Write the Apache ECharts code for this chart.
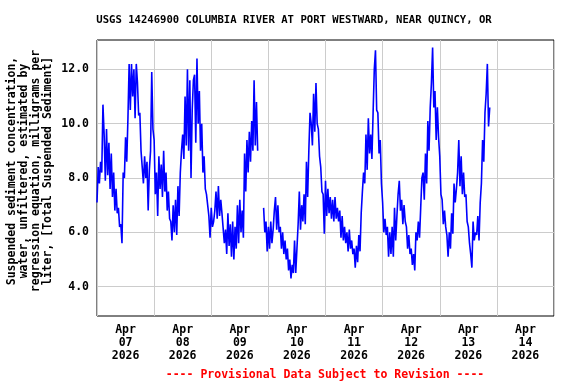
<!DOCTYPE html>
<html>
<head>
<meta charset="utf-8">
<script src="https://cdn.jsdelivr.net/npm/echarts@6/dist/echarts.min.js"></script>
<style>html,body{margin:0;padding:0;background:#fff}#c{width:576px;height:384px}</style>
</head>
<body>
<div id="c"></div>
<script>
// 30-minute values starting 2026-04-07 00:00 (hours from start = index * 0.5)
const ssc = [
  7.1,8.4, 7.8,8.6, 8.2,10.7, 9.6,7.9, 9.8,8.1, 9.3,7.6,
  8.9,7.3, 8.2,6.8, 7.6,6.7, 6.9,6.2, 6.3,5.6, 8.2,8.0,
  9.5,8.6, 10.2,12.2, 10.5,12.2, 11.0,12.0, 10.2,12.2, 11.5,10.3,
  10.4,9.0, 9.0,7.8, 8.8,8.0, 8.6,6.8, 8.3,9.0, 11.9,9.8,
  9.4,7.4, 8.2,6.6, 8.8,7.6, 8.5,7.3, 9.0,7.5, 8.2,6.8,
  7.5,6.5, 6.4,5.7, 7.0,6.0, 7.2,5.9, 7.7,6.6, 8.2,9.0,
  9.6,8.7, 11.0,9.2, 12.0,9.0, 11.6,8.0, 10.5,11.6, 11.8,9.3,
  12.4,10.0, 11.2,9.0, 10.0,8.2, 8.8,7.6, 7.4,7.0, 6.6,5.8,
  6.9,6.2, 6.4,6.8, 7.5,6.5, 7.7,6.6, 7.2,6.7, 6.7,5.6,
  6.1,5.2, 6.7,5.5, 6.3,5.1, 6.4,5.0, 6.2,5.4, 7.0,5.6,
  7.2,6.0, 6.8,5.8, 8.9,7.5, 9.4,8.2, 9.7,8.6, 10.1,9.0,
  11.6,9.2, 10.8,9.0, null,null, null,null, 6.9,6.0, 6.4,5.3,
  6.2,5.4, 6.4,5.6, 6.1,6.8, 7.3,6.1, 7.0,6.0, 6.2,5.4,
  6.0,5.2, 5.7,5.0, 5.4,4.6, 5.0,4.3, 4.8,4.5, 5.7,4.5,
  5.4,6.3, 7.5,6.1, 7.0,6.4, 7.4,6.3, 8.6,7.3, 9.0,10.4,
  10.0,9.2, 11.1,9.7, 11.5,10.0, 9.8,8.8, 8.4,7.5, 7.4,5.95,
  7.9,6.6, 7.6,6.7, 7.3,6.5, 7.2,6.4, 7.3,6.5, 6.9,6.4,
  6.8,5.8, 6.6,5.7, 6.2,5.6, 6.0,5.3, 6.1,5.4, 5.7,5.2,
  5.4,4.7, 5.5,4.9, 5.9,5.3, 6.7,7.5, 8.2,7.8, 9.6,8.3,
  10.2,8.9, 9.6,8.7, 10.4,12.0, 12.7,10.5, 10.4,8.9, 9.4,7.8,
  7.1,6.0, 6.5,5.9, 6.2,5.1, 6.0,5.2, 6.2,5.1, 6.9,5.7,
  6.6,7.4, 7.9,6.8, 7.2,6.3, 7.0,6.4, 6.2,5.4, 5.9,5.2,
  5.4,4.8, 5.2,4.6, 6.0,5.7, 6.4,5.8, 6.9,8.0, 8.2,7.2,
  8.9,7.8, 10.1,9.0, 10.6,11.5, 12.8,10.6, 11.2,9.4, 10.6,9.5,
  8.8,7.4, 7.2,6.3, 6.8,6.2, 5.9,5.1, 6.0,5.4, 6.7,5.95,
  7.8,7.1, 7.6,8.2, 9.4,7.7, 8.8,7.4, 8.2,7.3, 7.4,6.4,
  6.2,5.6, 5.2,4.7, 6.4,5.7, 6.0,5.9, 6.6,5.7, 7.1,7.8,
  9.4,8.6, 10.4,11.1, 12.2,9.9, 10.6
];
const stepHours = 0.5;
const dayLabels = ['07','08','09','10','11','12','13','14'];
const yTicks = [4, 6, 8, 10, 12];
const xLabelHours = [12, 36, 60, 84, 108, 132, 156, 180];

const FONT = 'DejaVu Sans Mono';
const data = ssc.map((v, i) => [i * stepHours, v]);

const chart = echarts.init(document.getElementById('c'), null, {renderer: 'canvas'});
chart.setOption({
  animation: false,
  backgroundColor: '#fff',
  grid: {left: 97, right: 22, top: 40, bottom: 68, show: true, borderColor: '#000', borderWidth: 1, backgroundColor: 'transparent'},
  xAxis: {
    type: 'value', min: 0, max: 192, interval: 24,
    axisLine: {show: false}, axisTick: {show: false},
    splitLine: {show: true, lineStyle: {color: '#cccccc', width: 1}},
    axisLabel: {
      customValues: xLabelHours,
      margin: 8,
      fontFamily: FONT, fontWeight: 'bold', fontSize: 11.5, color: '#000', lineHeight: 13,
      formatter: v => 'Apr\n' + dayLabels[Math.floor(v / 24)] + '\n2026'
    }
  },
  yAxis: {
    type: 'value', min: 2.92, max: 13.08,
    axisLine: {show: false},
    axisTick: {show: false, customValues: yTicks},
    splitLine: {show: true, lineStyle: {color: '#cccccc', width: 1}},
    axisLabel: {
      customValues: yTicks, margin: 8,
      fontFamily: FONT, fontWeight: 'bold', fontSize: 11.5, color: '#000',
      formatter: v => v.toFixed(1)
    }
  },
  series: [{
    type: 'line', data: data, showSymbol: false, connectNulls: false,
    lineStyle: {color: '#0000ff', width: 1.6}, itemStyle: {color: '#0000ff'}
  }],
  graphic: [
    {type: 'text', x: 294, y: 20, style: {text: 'USGS 14246900 COLUMBIA RIVER AT PORT WESTWARD, NEAR QUINCY, OR', fontFamily: FONT, fontWeight: 'bold', fontSize: 10.6, fill: '#000', textAlign: 'center', textVerticalAlign: 'middle'}},
    {type: 'text', x: 30, y: 171, rotation: Math.PI / 2, style: {text: 'Suspended sediment concentration,\nwater, unfiltered, estimated by\nregression equation, milligrams per\nliter, [Total Suspended Sediment]', fontFamily: FONT, fontWeight: 'bold', fontSize: 11.5, lineHeight: 11.7, fill: '#000', textAlign: 'center', textVerticalAlign: 'middle'}},
    {type: 'text', x: 325, y: 375, style: {text: '---- Provisional Data Subject to Revision ----', fontFamily: FONT, fontWeight: 'bold', fontSize: 11.5, fill: '#ff0000', textAlign: 'center', textVerticalAlign: 'middle'}}
  ]
});
</script>
</body>
</html>
